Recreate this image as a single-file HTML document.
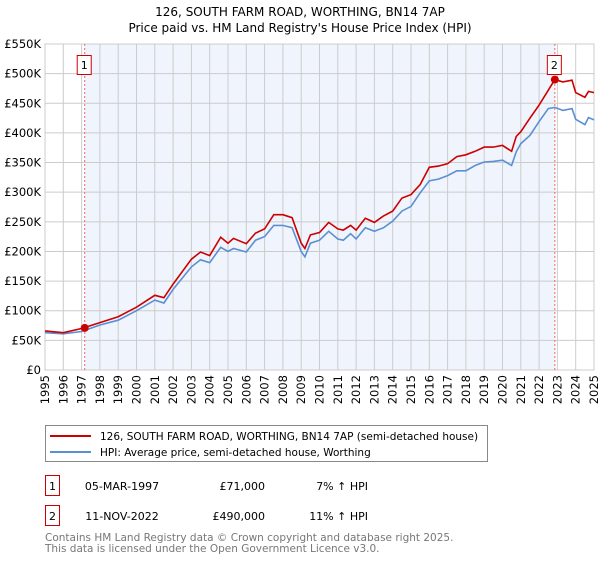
<!DOCTYPE html>
<html><head><meta charset="utf-8"><style>
body{margin:0;width:600px;height:560px;background:#fff;font-family:"Liberation Sans","DejaVu Sans",sans-serif;overflow:hidden}
svg text{font-family:"DejaVu Sans","Liberation Sans",sans-serif}
</style></head><body>
<svg width="600" height="560" xmlns="http://www.w3.org/2000/svg" id="chart">
<text x="300" y="16" text-anchor="middle" font-size="12">126, SOUTH FARM ROAD, WORTHING, BN14 7AP</text>
<text x="300" y="32" text-anchor="middle" font-size="12">Price paid vs. HM Land Registry's House Price Index (HPI)</text>
<g id="plot"></g>
<g>
<rect x="45.5" y="425.5" width="442" height="36" fill="#fff" stroke="#888"/>
<line x1="50" y1="436" x2="91" y2="436" stroke="#cc0000" stroke-width="2"/>
<text x="100" y="440" font-size="10.5">126, SOUTH FARM ROAD, WORTHING, BN14 7AP (semi-detached house)</text>
<line x1="50" y1="452" x2="91" y2="452" stroke="#5b8fd4" stroke-width="2"/>
<text x="100" y="456" font-size="10.5">HPI: Average price, semi-detached house, Worthing</text>
</g>
<g font-size="11">
<rect x="45.5" y="475.5" width="14" height="20" fill="#fff" stroke="#cc0000"/><text x="52.5" y="490" text-anchor="middle">1</text>
<text x="122" y="490" text-anchor="middle">05-MAR-1997</text><text x="265" y="490" text-anchor="end">£71,000</text><text x="368" y="490" text-anchor="end">7% ↑ HPI</text>
<rect x="45.5" y="505.5" width="14" height="20" fill="#fff" stroke="#cc0000"/><text x="52.5" y="520" text-anchor="middle">2</text>
<text x="122" y="520" text-anchor="middle">11-NOV-2022</text><text x="265" y="520" text-anchor="end">£490,000</text><text x="368" y="520" text-anchor="end">11% ↑ HPI</text>
</g>
<g font-size="10.5" fill="#777">
<text x="45" y="541">Contains HM Land Registry data © Crown copyright and database right 2025.</text>
<text x="45" y="552">This data is licensed under the Open Government Licence v3.0.</text>
</g>
</svg>
<script>
const years=[1995,1996,1997,1998,1999,2000,2001,2001.5,2002,2003,2003.5,2004,2004.6,2005,2005.3,2006,2006.5,2007,2007.5,2008,2008.5,2009,2009.2,2009.5,2010,2010.5,2011,2011.3,2011.7,2012,2012.5,2013,2013.5,2014,2014.5,2015,2015.5,2016,2016.5,2017,2017.5,2018,2018.5,2019,2019.5,2020,2020.5,2020.75,2021,2021.5,2022,2022.5,2022.86,2023.3,2023.8,2024,2024.5,2024.7,2025];
const hpiValues=[63,61,65,76,84,100,118,113,136,174,186,181,207,200,205,199,219,225,244,244,240,200,191,214,219,234,221,219,230,221,240,234,240,251,268,276,299,319,322,328,336,336,345,351,352,354,345,368,382,396,419,441,443,438,441,423,414,426,422];
const priceValues=[66,63,70,80,90,106,126,122,145,187,199,193,224,214,222,213,231,238,262,262,257,214,205,228,232,249,238,236,244,236,256,249,260,268,290,296,313,342,344,348,360,363,369,376,376,379,369,394,402,425,447,472,490,486,489,468,460,470,468];
const yTicks=[0,50,100,150,200,250,300,350,400,450,500,550];
const yTickLabels=["£0","£50K","£100K","£150K","£200K","£250K","£300K","£350K","£400K","£450K","£500K","£550K"];
const xTickYears=[1995,1996,1997,1998,1999,2000,2001,2002,2003,2004,2005,2006,2007,2008,2009,2010,2011,2012,2013,2014,2015,2016,2017,2018,2019,2020,2021,2022,2023,2024,2025];
const saleDates=[1997.17,2022.86];
const salePrices=[71,490];
const saleLabels=["1","2"];
const X0=45,X1=594,Y0=370,Y1=44;
const xs=y=>X0+(y-1995)/(2025-1995)*(X1-X0);
const ys=v=>Y0-v/550*(Y0-Y1);
const NS="http://www.w3.org/2000/svg",g=document.getElementById('plot');
function mk(t,a){const e=document.createElementNS(NS,t);for(const k in a)e.setAttribute(k,a[k]);g.appendChild(e);return e;}
let e=mk('rect',{x:xs(saleDates[0]),y:Y1,width:xs(saleDates[1])-xs(saleDates[0]),height:Y0-Y1,fill:'#f0f4fc'});


yTicks.forEach((v,i)=>{
 let l=mk('line',{x1:X0,x2:X1,y1:ys(v),y2:ys(v),stroke:'#ccc','stroke-width':1});
 
 
 let t=mk('text',{x:X0-4,y:ys(v)+4,'text-anchor':'end','font-size':11.5});
 t.textContent=yTickLabels[i];
 
 
});
xTickYears.forEach(yr=>{
 let l=mk('line',{x1:xs(yr),x2:xs(yr),y1:Y1,y2:Y0,stroke:'#ccc','stroke-width':1});
 
 
 let t=mk('text',{x:0,y:0,'text-anchor':'end','font-size':11.5,transform:`translate(${xs(yr)+4},${Y0+5}) rotate(-90)`});
 t.textContent=yr;
 
 
});
e=mk('rect',{x:X0,y:Y1,width:X1-X0,height:Y0-Y1,fill:'none',stroke:'#ccc'});


saleDates.forEach((d,i)=>{
 let l=mk('line',{x1:xs(d),x2:xs(d),y1:Y1,y2:Y0,stroke:'#e66','stroke-width':1,'stroke-dasharray':'2,2'});
 
 
});
const pts=a=>a.map((v,i)=>xs(years[i]).toFixed(1)+','+ys(v).toFixed(1)).join(' ');
e=mk('polyline',{points:pts(hpiValues),fill:'none',stroke:'#5b8fd4','stroke-width':1.6});


e=mk('polyline',{points:pts(priceValues),fill:'none',stroke:'#cc0000','stroke-width':1.6});


saleDates.forEach((d,i)=>{
 let c=mk('circle',{cx:xs(d),cy:ys(salePrices[i]),r:4,fill:'#cc0000'});
 
 
 let r=mk('rect',{x:xs(d)-7.5,y:55.5,width:14,height:19,fill:'#fff',stroke:'#cc0000'});
 
 
 let t=mk('text',{x:xs(d)-0.5,y:69,'text-anchor':'middle','font-size':11});
 t.textContent=saleLabels[i];
 
 
});
</script>
</body></html>
